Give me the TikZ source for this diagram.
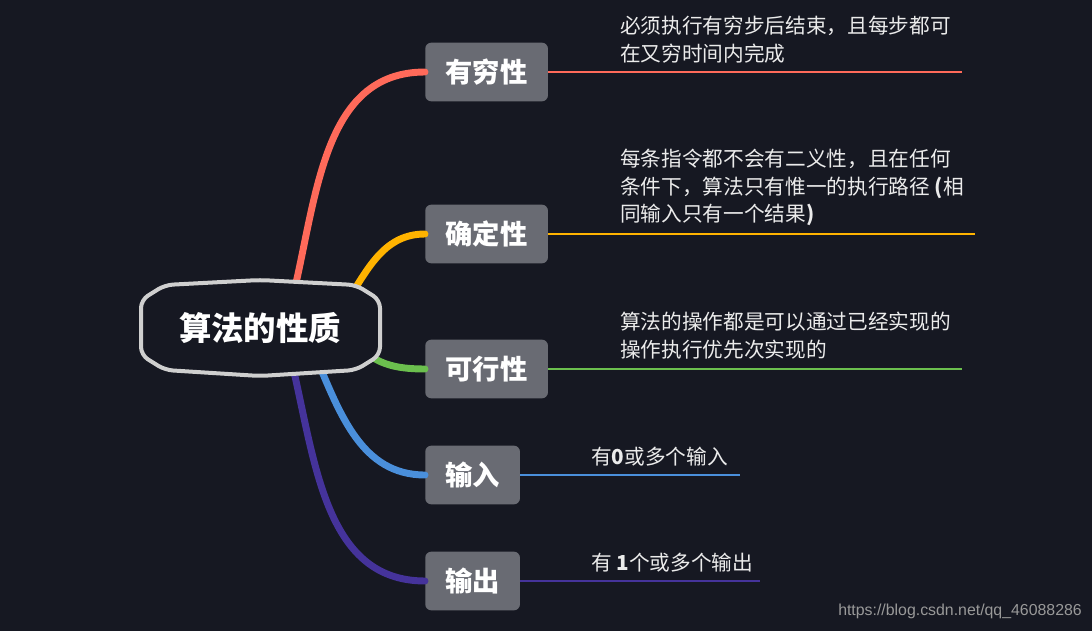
\documentclass[tikz,border=0pt]{standalone}
\usepackage{fontspec}
\usepackage{tikz}
\usetikzlibrary{positioning,calc}
\newfontfamily\cjk{Noto Sans CJK SC}
\newfontfamily\webfont{Liberation Sans}
\definecolor{bgdark}{HTML}{161822}
\definecolor{boxgray}{HTML}{696B73}
\definecolor{rimgray}{HTML}{CFCFCF}
\definecolor{brred}{HTML}{FF6A5A}
\definecolor{bryellow}{HTML}{FFB300}
\definecolor{brgreen}{HTML}{6BBF4E}
\definecolor{brblue}{HTML}{4A8FDB}
\definecolor{brpurple}{HTML}{45339B}

\begin{document}
\begin{tikzpicture}[
    x=0.75pt, y=-0.75pt,
    topic/.style={fill=boxgray, rounded corners=4.5pt,
        minimum width=92pt, minimum height=44pt,
        anchor=west, text=white,
        font=\cjk\bfseries\fontsize{20.5}{24}\selectfont},
    shorttopic/.style={topic, minimum width=71pt},
    core/.style={text=white, font=\cjk\bfseries\fontsize{24.3}{28}\selectfont},
    note/.style={anchor=north west, inner sep=0pt, align=left,
        text=white!92!black,
        font=\cjk\fontsize{15.5}{20.6}\selectfont},
    branch/.style={line width=5.2pt, line cap=round},
    uline/.style={line width=1.8pt}
]
\fill[bgdark] (0,0) rectangle (1092,631);
\useasboundingbox (0,0) rectangle (1092,631);

\node[topic] (fin) at (425,72) {有穷性};
\node[topic] (def) at (425,234) {确定性};
\node[topic] (feas) at (425,369) {可行性};
\node[shorttopic] (inp) at (425,475) {输入};
\node[shorttopic] (outp) at (425,581) {输出};

\coordinate (finroot) at (292,300);
\coordinate (defroot) at (348,300);
\coordinate (feasroot) at (355,340);
\coordinate (inproot) at (315,355);
\coordinate (outproot) at (290,355);

\draw[branch, brred] (finroot) to[out=76, in=180] (fin.west);
\draw[branch, bryellow] (defroot) to[out=58, in=180] (def.west);
\draw[branch, brgreen] (feasroot) to[out=-55, in=180] (feas.west);
\draw[branch, brblue] (inproot) to[out=-67, in=180] (inp.west);
\draw[branch, brpurple] (outproot) to[out=-76, in=180] (outp.west);

\draw[rimgray, line width=3pt, fill=bgdark, rounded corners=6pt]
    (141,355) -- (141,300) -- (165,285) -- (260,280) -- (356,285)
    -- (380,300) -- (380,355) -- (356,370) -- (260,376) -- (165,370) -- cycle;
\node[core] (root) at (260,328) {算法的性质};

\coordinate (finend) at (962,72);
\coordinate (defend) at (975,234);
\coordinate (feasend) at (962,369);
\coordinate (inpend) at (740,475);
\coordinate (outpend) at (760,581);

\draw[uline, brred] (fin.east) -- (finend);
\draw[uline, bryellow] (def.east) -- (defend);
\draw[uline, brgreen] (feas.east) -- (feasend);
\draw[uline, brblue] (inp.east) -- (inpend);
\draw[uline, brpurple] (outp.east) -- (outpend);

\node[note] (finnote) at (620,16) {必须执行有穷步后结束，且每步都可\\在又穷时间内完成};
\node[note] (defnote) at (620,149) {每条指令都不会有二义性，且在任何\\条件下，算法只有惟一的执行路径 \textbf{(}相\\同输入只有一个结果\textbf{)}};
\node[note] (feasnote) at (620,312) {算法的操作都是可以通过已经实现的\\操作执行优先次实现的};
\node[note] (inpnote) at (591,447) {有\textbf{0}或多个输入};
\node[note] (outpnote) at (591,553) {有 \textbf{1}个或多个输出};

\node[anchor=east, inner sep=0pt, text=gray!80,
    font=\webfont\fontsize{11.9}{14}\selectfont] (mark) at (1082,611)
    {https://blog.csdn.net/qq\_46088286};
\end{tikzpicture}
\end{document}
